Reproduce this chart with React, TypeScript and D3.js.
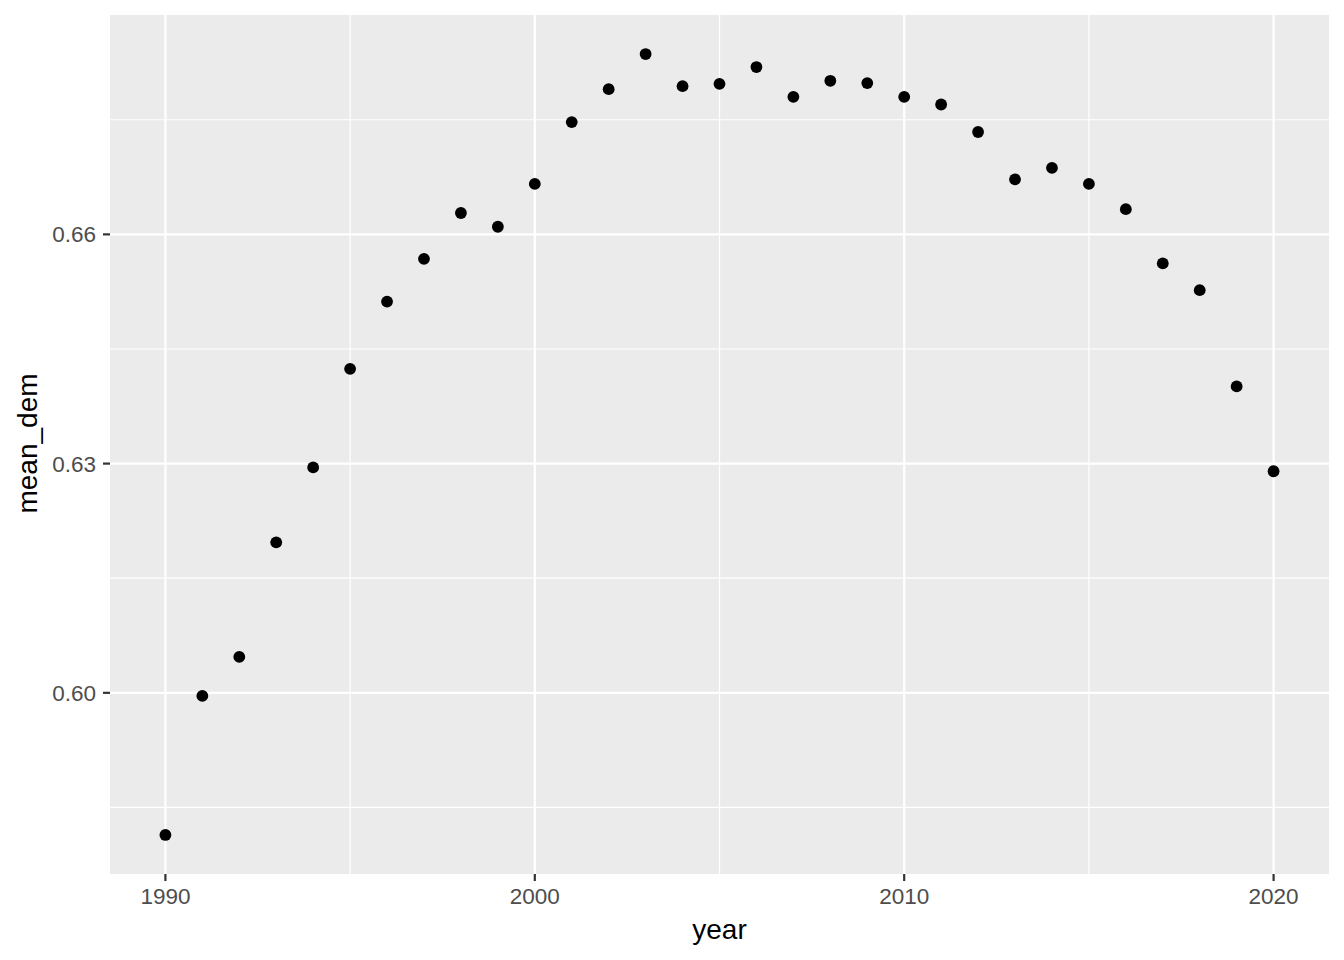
import React from "react";
import * as d3 from "d3";

const years: number[] = [1990,1991,1992,1993,1994,1995,1996,1997,1998,1999,2000,2001,2002,2003,2004,2005,2006,2007,2008,2009,2010,2011,2012,2013,2014,2015,2016,2017,2018,2019,2020];
const meanDem: number[] = [0.5814,0.5996,0.6047,0.6197,0.6295,0.6424,0.6512,0.6568,0.6628,0.6610,0.6666,0.6747,0.6790,0.6836,0.6794,0.6797,0.6819,0.6780,0.6801,0.6798,0.6780,0.6770,0.6734,0.6672,0.6687,0.6666,0.6633,0.6562,0.6527,0.6401,0.6290];
const xTicks: number[] = [1990, 2000, 2010, 2020];
const xMinor: number[] = [1995, 2005, 2015];
const yTicks: number[] = [0.60, 0.63, 0.66];
const yMinor: number[] = [0.585, 0.615, 0.645, 0.675];
const xTitle = "year";
const yTitle = "mean_dem";

const W = 1344, H = 960;
const left = 110, right = 1329, top = 15, bottom = 874;
const font = "'Liberation Sans', Arial, Helvetica, sans-serif";

export default function App() {
  const [x0, x1] = d3.extent(years) as [number, number];
  const xPad = (x1 - x0) * 0.05;
  const [y0, y1] = d3.extent(meanDem) as [number, number];
  const yPad = (y1 - y0) * 0.05;
  const x = d3.scaleLinear().domain([x0 - xPad, x1 + xPad]).range([left, right]);
  const y = d3.scaleLinear().domain([y0 - yPad, y1 + yPad]).range([bottom, top]);

  return (
    <svg width={W} height={H} style={{ display: "block", position: "absolute", left: 0, top: 0 }}>
      <rect x={0} y={0} width={W} height={H} fill="#FFFFFF" />
      <rect x={left} y={top} width={right - left} height={bottom - top} fill="#EBEBEB" />
      {yMinor.map((v) => (
        <line key={"ym" + v} x1={left} x2={right} y1={y(v)} y2={y(v)} stroke="#FFFFFF" strokeWidth={1.2} />
      ))}
      {xMinor.map((v) => (
        <line key={"xm" + v} x1={x(v)} x2={x(v)} y1={top} y2={bottom} stroke="#FFFFFF" strokeWidth={1.2} />
      ))}
      {yTicks.map((v) => (
        <line key={"y" + v} x1={left} x2={right} y1={y(v)} y2={y(v)} stroke="#FFFFFF" strokeWidth={2.2} />
      ))}
      {xTicks.map((v) => (
        <line key={"x" + v} x1={x(v)} x2={x(v)} y1={top} y2={bottom} stroke="#FFFFFF" strokeWidth={2.2} />
      ))}
      {years.map((yr, i) => (
        <circle key={yr} cx={x(yr)} cy={y(meanDem[i])} r={5.9} fill="#000000" />
      ))}
      {yTicks.map((v) => (
        <g key={"yt" + v}>
          <line x1={left - 7} x2={left} y1={y(v)} y2={y(v)} stroke="#333333" strokeWidth={2.2} />
          <text x={left - 14} y={y(v)} dy="0.36em" textAnchor="end" fontFamily={font} fontSize={22.5} fill="#4D4D4D">
            {d3.format(".2f")(v)}
          </text>
        </g>
      ))}
      {xTicks.map((v) => (
        <g key={"xt" + v}>
          <line x1={x(v)} x2={x(v)} y1={bottom} y2={bottom + 7} stroke="#333333" strokeWidth={2.2} />
          <text x={x(v)} y={903.5} textAnchor="middle" fontFamily={font} fontSize={22.5} fill="#4D4D4D">
            {v}
          </text>
        </g>
      ))}
      <text x={(left + right) / 2} y={938.5} textAnchor="middle" fontFamily={font} fontSize={28} fill="#000000">
        {xTitle}
      </text>
      <text transform={`translate(37.3,443.5) rotate(-90)`} textAnchor="middle" fontFamily={font} fontSize={28} fill="#000000">
        {yTitle}
      </text>
    </svg>
  );
}
